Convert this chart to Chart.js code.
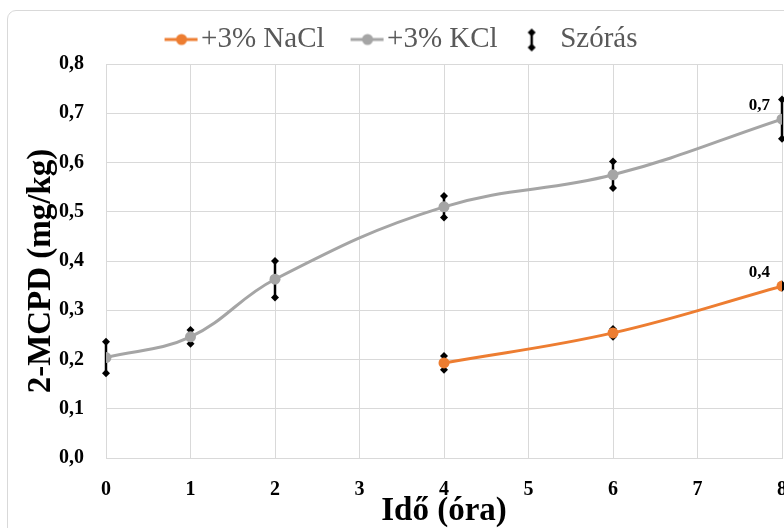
<!DOCTYPE html>
<html>
<head>
<meta charset="utf-8">
<script src="https://cdn.jsdelivr.net/npm/chart.js@4.4.0/dist/chart.umd.min.js"></script>
<style>
    html, body { margin: 0; padding: 0; background: #fff; overflow: hidden; }
    #frame {
        position: absolute; left: 7px; top: 10px;
        width: 900px; height: 600px;
        border: 1px solid #d9d9d9; border-radius: 9px;
    }
    #wrap { position: absolute; left: 14px; top: 0; width: 796px; height: 528px; }
</style>
</head>
<body>
<div id="frame"></div>
<div id="wrap"><canvas id="chart" width="796" height="528"></canvas></div>
<script>
// Chart data
const kclHours = [0, 1, 2, 4, 6, 8];
const kclValues = [0.204, 0.246, 0.363, 0.510, 0.575, 0.688];
const kclSd = [0.040, 0.022, 0.045, 0.030, 0.035, 0.048];
const kclLabels = [null, null, null, null, null, '0,7'];

const naclHours = [4, 6, 8];
const naclValues = [0.193, 0.254, 0.349];
const naclSd = [0.022, 0.016, 0.005];
const naclLabels = [null, null, '0,4'];

const legendTexts = ['+3% NaCl', '+3% KCl', 'Szórás'];
const xTickLabels = ['0', '1', '2', '3', '4', '5', '6', '7', '8'];
const yTickLabels = ['0,0', '0,1', '0,2', '0,3', '0,4', '0,5', '0,6', '0,7', '0,8'];

const colors = {
    nacl: '#ED7D31',
    kcl: '#A5A5A5',
    grid: '#D9D9D9',
    legend: '#595959'
};
const serif = "'Liberation Serif', 'Times New Roman', serif";
Chart.defaults.font.family = serif;

function toPoints(xs, ys) {
    return xs.map((x, i) => ({ x: x, y: ys[i] }));
}

// diamond-capped vertical bar, used for error bars and the legend icon
function drawErrorBar(ctx, x, yTop, yBottom) {
    const d = 4;
    ctx.save();
    ctx.strokeStyle = '#000';
    ctx.fillStyle = '#000';
    ctx.lineWidth = 2.5;
    ctx.beginPath();
    ctx.moveTo(x, yTop + d);
    ctx.lineTo(x, yBottom - d);
    ctx.stroke();
    [yTop + d, yBottom - d].forEach(cy => {
        ctx.beginPath();
        ctx.moveTo(x, cy - d);
        ctx.lineTo(x + d, cy);
        ctx.lineTo(x, cy + d);
        ctx.lineTo(x - d, cy);
        ctx.closePath();
        ctx.fill();
    });
    ctx.restore();
}

function lineMarker(color) {
    const c = document.createElement('canvas');
    c.width = 52; c.height = 14;
    const g = c.getContext('2d');
    g.strokeStyle = color;
    g.lineWidth = 3;
    g.beginPath();
    g.moveTo(18, 7);
    g.lineTo(51, 7);
    g.stroke();
    g.fillStyle = color;
    g.beginPath();
    g.arc(35, 7, 5.5, 0, Math.PI * 2);
    g.fill();
    return c;
}

function errorMarker() {
    const c = document.createElement('canvas');
    c.width = 52; c.height = 28;
    drawErrorBar(c.getContext('2d'), 26, 3, 26);
    return c;
}

const errorBarPlugin = {
    id: 'errorBars',
    beforeDatasetsDraw(chart) {
        const ctx = chart.ctx;
        const yScale = chart.scales.y;
        chart.data.datasets.forEach((ds, di) => {
            const meta = chart.getDatasetMeta(di);
            ds.sd.forEach((sd, i) => {
                const el = meta.data[i];
                const v = ds.data[i].y;
                drawErrorBar(ctx, el.x, yScale.getPixelForValue(v + sd), yScale.getPixelForValue(v - sd));
            });
        });
    }
};

const pointLabelPlugin = {
    id: 'pointLabels',
    afterDatasetsDraw(chart) {
        const ctx = chart.ctx;
        ctx.save();
        ctx.font = 'bold 17px ' + serif;
        ctx.fillStyle = '#000';
        ctx.textAlign = 'right';
        ctx.textBaseline = 'middle';
        chart.data.datasets.forEach((ds, di) => {
            const meta = chart.getDatasetMeta(di);
            ds.pointLabels.forEach((txt, i) => {
                if (!txt) return;
                const el = meta.data[i];
                ctx.fillText(txt, el.x - 12, el.y - 14);
            });
        });
        ctx.restore();
    }
};

// y axis title sits a little below the middle of the axis, as in the original
const yTitlePlugin = {
    id: 'yTitle',
    afterDraw(chart) {
        const ctx = chart.ctx;
        const area = chart.chartArea;
        ctx.save();
        ctx.translate(27, (area.top + area.bottom) / 2 + 10);
        ctx.rotate(-Math.PI / 2);
        ctx.font = 'bold 33px ' + serif;
        ctx.fillStyle = '#000';
        ctx.textAlign = 'center';
        ctx.textBaseline = 'middle';
        ctx.fillText('2-MCPD (mg/kg)', 0, 0);
        ctx.restore();
    }
};

const legendMarkers = [lineMarker(colors.nacl), lineMarker(colors.kcl), errorMarker()];

new Chart(document.getElementById('chart').getContext('2d'), {
    type: 'line',
    data: {
        datasets: [
            {
                label: legendTexts[0],
                data: toPoints(naclHours, naclValues),
                sd: naclSd,
                pointLabels: naclLabels,
                borderColor: colors.nacl,
                backgroundColor: colors.nacl,
                borderWidth: 3,
                pointRadius: 5.5,
                pointBorderWidth: 0,
                tension: 0.4
            },
            {
                label: legendTexts[1],
                data: toPoints(kclHours, kclValues),
                sd: kclSd,
                pointLabels: kclLabels,
                borderColor: colors.kcl,
                backgroundColor: colors.kcl,
                borderWidth: 3,
                pointRadius: 5.5,
                pointBorderWidth: 0,
                tension: 0.4
            }
        ]
    },
    options: {
        responsive: false,
        animation: false,
        layout: { padding: { top: 5, right: 28, left: 0, bottom: 0 } },
        plugins: {
            tooltip: { enabled: false },
            legend: {
                position: 'top',
                labels: {
                    usePointStyle: true,
                    pointStyleWidth: 28,
                    padding: 20,
                    color: colors.legend,
                    font: { family: serif, size: 29 },
                    generateLabels: function() {
                        return legendTexts.map((t, i) => ({
                            text: t,
                            pointStyle: legendMarkers[i],
                            fillStyle: 'transparent',
                            strokeStyle: 'transparent',
                            lineWidth: 0,
                            fontColor: colors.legend,
                            hidden: false,
                            datasetIndex: i
                        }));
                    }
                }
            }
        },
        scales: {
            x: {
                type: 'linear',
                min: 0,
                max: 8,
                afterFit: function(scale) { scale.height = 70; },
                grid: { color: colors.grid, drawTicks: false },
                border: { color: colors.grid },
                ticks: {
                    stepSize: 1,
                    padding: 20,
                    color: '#000',
                    font: { family: serif, size: 20, weight: 'bold' },
                    callback: (v) => xTickLabels[v]
                },
                title: {
                    display: true,
                    text: 'Idő (óra)',
                    color: '#000',
                    padding: { top: 0, bottom: 0 },
                    font: { family: serif, size: 33, weight: 'bold', lineHeight: 1 }
                }
            },
            y: {
                min: 0,
                max: 0.8,
                afterFit: function(scale) { scale.width = 92; },
                grid: { color: colors.grid, drawTicks: false },
                border: { color: colors.grid },
                ticks: {
                    stepSize: 0.1,
                    padding: 22,
                    color: '#000',
                    font: { family: serif, size: 20, weight: 'bold' },
                    callback: (v, i) => yTickLabels[i]
                }
            }
        }
    },
    plugins: [errorBarPlugin, pointLabelPlugin, yTitlePlugin]
});
</script>
</body>
</html>
